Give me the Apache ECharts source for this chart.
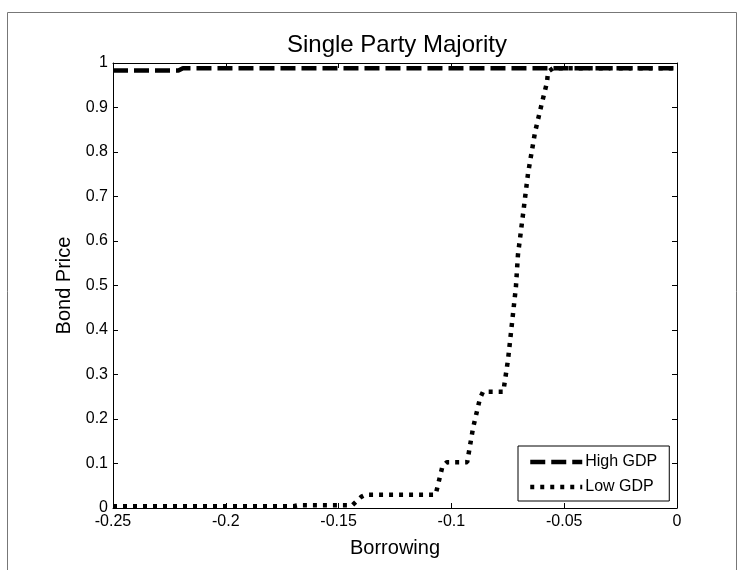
<!DOCTYPE html>
<html>
<head>
<meta charset="utf-8">
<script src="https://cdn.jsdelivr.net/npm/echarts@6/dist/echarts.min.js"></script>
<style>html,body{margin:0;padding:0;background:#fff;}#c{width:740px;height:570px;}</style>
</head>
<body>
<div id="c"></div>
<script>
const titleText = 'Single Party Majority';
const xLabel = 'Borrowing';
const yLabel = 'Bond Price';
const seriesNames = ['High GDP', 'Low GDP'];
const highX = [-0.25, -0.221, -0.219, 0];
const highY = [0.983, 0.983, 0.988, 0.988];
const lowX = [-0.25, -0.17, -0.168, -0.144, -0.14, -0.138, -0.107, -0.104, -0.102, -0.093, -0.0904, -0.0873, -0.086, -0.077, -0.0749, -0.0714, -0.0705, -0.0683, -0.066, -0.0629, -0.0598, -0.0576, -0.0572, -0.055, 0];
const lowY = [0.004, 0.004, 0.006, 0.006, 0.025, 0.03, 0.03, 0.093, 0.103, 0.103, 0.18, 0.247, 0.261, 0.261, 0.333, 0.497, 0.569, 0.658, 0.753, 0.845, 0.912, 0.957, 0.98, 0.988, 0.988];
const xMin = -0.25, xMax = 0, xStep = 0.05;
const yMin = 0, yMax = 1, yStep = 0.1;

const font = 'Liberation Sans, Arial, sans-serif';
const chart = echarts.init(document.getElementById('c'), null, {renderer: 'canvas'});
const pair = (xs, ys) => xs.map((x, i) => [x, ys[i]]);
const axLine = {show: true, onZero: false, lineStyle: {color: '#000', width: 1}};
const axTick = {show: true, inside: true, length: 5, lineStyle: {color: '#000'}};
const highStyle = {color: '#000', width: 4.5, type: [15, 6], cap: 'butt'};
const lowStyle = {color: '#000', width: 4.5, type: [4, 6], cap: 'butt'};

chart.setOption({
  animation: false,
  backgroundColor: '#fff',
  title: {text: titleText, left: 392, top: 28, textAlign: 'center',
    textStyle: {fontFamily: font, fontSize: 24, fontWeight: 'normal', color: '#000'}},
  graphic: [{type: 'rect', shape: {x: 7.5, y: 12.5, width: 729, height: 570},
    style: {fill: 'none', stroke: '#777', lineWidth: 1}, silent: true, z: -10}],
  grid: {left: 113, right: 63, top: 63, bottom: 62, show: false},
  legend: {
    orient: 'vertical', left: 518, top: 446,
    data: [
      {name: seriesNames[0], itemStyle: {opacity: 0}, lineStyle: highStyle},
      {name: seriesNames[1], itemStyle: {opacity: 0}, lineStyle: lowStyle}
    ],
    padding: [8, 12, 6, 10], itemGap: 9, itemWidth: 52, itemHeight: 16,
    borderColor: '#000', borderWidth: 1, backgroundColor: '#fff',
    textStyle: {fontFamily: font, fontSize: 16, color: '#000', padding: [0, 0, 0, -2]}
  },
  xAxis: [
    {type: 'value', min: xMin, max: xMax, interval: xStep, position: 'bottom',
      name: xLabel, nameLocation: 'middle', nameGap: 30,
      nameTextStyle: {fontFamily: font, fontSize: 20, color: '#000'},
      axisLine: axLine, axisTick: axTick, splitLine: {show: false},
      axisLabel: {fontFamily: font, fontSize: 16, color: '#000', margin: 6}},
    {type: 'value', min: xMin, max: xMax, interval: xStep, position: 'top',
      axisLine: axLine, axisTick: axTick, splitLine: {show: false}, axisLabel: {show: false}}
  ],
  yAxis: [
    {type: 'value', min: yMin, max: yMax, interval: yStep, position: 'left',
      name: yLabel, nameLocation: 'middle', nameGap: 38, nameRotate: 90,
      nameTextStyle: {fontFamily: font, fontSize: 20, color: '#000'},
      axisLine: axLine, axisTick: axTick, splitLine: {show: false},
      axisLabel: {fontFamily: font, fontSize: 16, color: '#000', margin: 5}},
    {type: 'value', min: yMin, max: yMax, interval: yStep, position: 'right',
      axisLine: axLine, axisTick: axTick, splitLine: {show: false}, axisLabel: {show: false}}
  ],
  series: [
    {name: seriesNames[0], type: 'line', data: pair(highX, highY), showSymbol: false, symbol: 'none', z: 3,
      color: '#000', lineStyle: highStyle},
    {name: seriesNames[1], type: 'line', data: pair(lowX, lowY), showSymbol: false, symbol: 'none', z: 2,
      color: '#000', lineStyle: lowStyle}
  ]
});
</script>
</body>
</html>
